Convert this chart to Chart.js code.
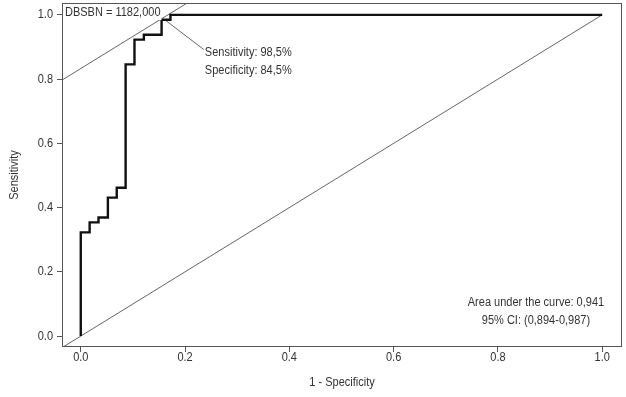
<!DOCTYPE html>
<html><head><meta charset="utf-8">
<script src="https://cdn.jsdelivr.net/npm/chart.js@4/dist/chart.umd.min.js"></script>
<style>html,body{margin:0;padding:0;background:#fff}#wrap{width:626px;height:397px}</style>
</head><body><div id="wrap"><canvas id="c" width="626" height="397"></canvas></div>
<script>
// ROC curve (1 - specificity, sensitivity)
const fpr = [0, 0, 0.017, 0.034, 0.052, 0.069, 0.086, 0.103, 0.121, 0.155, 0.172, 1.0];
const tpr = [0, 0.323, 0.354, 0.369, 0.431, 0.462, 0.846, 0.923, 0.938, 0.985, 1.0, 1.0];
// reference diagonal and tangent line at cut-off
const diagX = [-0.036, 1.0];
const diagY = [-0.036, 1.0];
const tangentX = [-0.036, 0.205];
const tangentY = [0.797, 1.038];
const leaderX = [0.161, 0.236];
const leaderY = [0.985, 0.892];
const xTicks = [0, 0.2, 0.4, 0.6, 0.8, 1.0];
const yTicks = [0, 0.2, 0.4, 0.6, 0.8, 1.0];
const xTitle = "1 - Specificity";
const yTitle = "Sensitivity";
const cutLabel = "DBSBN = 1182,000";
const sensLabel = "Sensitivity: 98,5%";
const specLabel = "Specificity: 84,5%";
const aucLabel = "Area under the curve: 0,941";
const ciLabel = "95% CI: (0,894-0,987)";

const FONT = "'Liberation Sans', Arial, sans-serif";
const FS = 12.5;      // font size
const SX = 0.88;      // horizontal compression of the narrow font
const TXT = '#333333';
const AX = '#555555';

const pts = (xs, ys) => xs.map((x, i) => ({x, y: ys[i]}));

function text(ctx, s, x, y, align, rot) {
  ctx.save();
  ctx.translate(x, y);
  if (rot) ctx.rotate(rot);
  ctx.scale(SX, 1);
  ctx.textAlign = align;
  ctx.textBaseline = 'middle';
  ctx.fillText(s, 0, 0);
  ctx.restore();
}

const textPlugin = {
  id: 'texts',
  afterDatasetsDraw(chart) {
    const {ctx, scales: {x, y}, chartArea: a} = chart;
    ctx.save();
    ctx.font = FS + 'px ' + FONT;
    // white background behind cut-off label
    const w = ctx.measureText(cutLabel).width * SX;
    ctx.fillStyle = '#fff';
    ctx.fillRect(a.left + 1, a.top + 1, w + 3, 16);
    ctx.fillStyle = TXT;
    text(ctx, cutLabel, a.left + 3, a.top + 9.5, 'left');
    text(ctx, sensLabel, x.getPixelForValue(0.238), y.getPixelForValue(0.882), 'left');
    text(ctx, specLabel, x.getPixelForValue(0.238), y.getPixelForValue(0.826), 'left');
    text(ctx, aucLabel, x.getPixelForValue(0.873), y.getPixelForValue(0.103), 'center');
    text(ctx, ciLabel, x.getPixelForValue(0.873), y.getPixelForValue(0.047), 'center');
    // tick labels
    xTicks.forEach(v => text(ctx, v.toFixed(1), x.getPixelForValue(v), a.bottom + 11, 'center'));
    yTicks.forEach(v => text(ctx, v.toFixed(1), a.left - 9, y.getPixelForValue(v), 'right'));
    // axis titles
    text(ctx, xTitle, (a.left + a.right) / 2, 383, 'center');
    text(ctx, yTitle, 15, (a.top + a.bottom) / 2, 'center', -Math.PI / 2);
    ctx.restore();
    // frame
    ctx.save();
    ctx.strokeStyle = AX;
    ctx.lineWidth = 1;
    ctx.strokeRect(a.left + 0.5, a.top + 0.5, a.right - a.left - 1, a.bottom - a.top - 1);
    ctx.restore();
  }
};

new Chart(document.getElementById('c'), {
  type: 'scatter',
  data: {
    datasets: [
      {data: pts(fpr, tpr), showLine: true, stepped: 'before', borderColor: '#111', borderWidth: 2.4, pointRadius: 0, order: 0},
      {data: pts(diagX, diagY), showLine: true, borderColor: '#666', borderWidth: 1, pointRadius: 0, order: 1},
      {data: pts(tangentX, tangentY), showLine: true, borderColor: '#666', borderWidth: 1, pointRadius: 0, order: 1},
      {data: pts(leaderX, leaderY), showLine: true, borderColor: '#666', borderWidth: 1, pointRadius: 0, order: 1}
    ]
  },
  options: {
    responsive: false,
    animation: false,
    devicePixelRatio: 1,
    layout: {padding: {top: 3, right: 4, left: 0, bottom: 0}},
    plugins: {legend: {display: false}, tooltip: {enabled: false}},
    scales: {
      x: {
        type: 'linear', min: -0.036, max: 1.038,
        afterBuildTicks: s => { s.ticks = xTicks.map(v => ({value: v})); },
        afterFit: s => { s.height = 50; s.paddingLeft = 0; s.paddingRight = 0; },
        grid: {display: true, drawOnChartArea: false, drawTicks: true, tickLength: 5, color: AX},
        border: {display: false},
        ticks: {display: false},
        title: {display: false}
      },
      y: {
        type: 'linear', min: -0.034, max: 1.037,
        afterBuildTicks: s => { s.ticks = yTicks.map(v => ({value: v})); },
        afterFit: s => { s.width = 62; s.paddingTop = 0; s.paddingBottom = 0; },
        grid: {display: true, drawOnChartArea: false, drawTicks: true, tickLength: 5, color: AX},
        border: {display: false},
        ticks: {display: false},
        title: {display: false}
      }
    }
  },
  plugins: [textPlugin]
});
</script></body></html>
